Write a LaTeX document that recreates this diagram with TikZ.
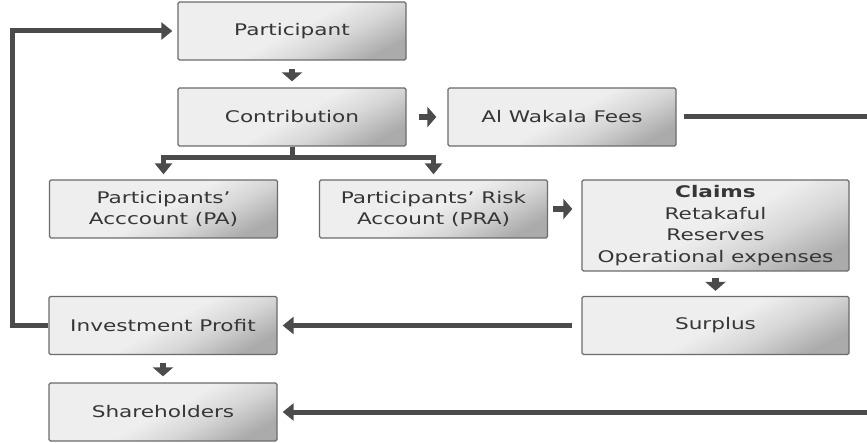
\documentclass[tikz,border=0pt]{standalone}
\usepackage{fontspec}
\usetikzlibrary{arrows.meta}
\newfontfamily\boxfont[FakeStretch=1.35]{DejaVu Sans}

\definecolor{shA}{HTML}{EEEEEE}
\definecolor{shB}{HTML}{D6D6D6}
\definecolor{shC}{HTML}{ABABAB}
\definecolor{boxline}{HTML}{6B6B6B}
\definecolor{linec}{HTML}{4B4B4B}
\definecolor{txt}{HTML}{363636}

% light face that darkens toward the lower right corner
\pgfdeclarehorizontalshading{boxshade}{100bp}{%
  color(0bp)=(shA); color(25bp)=(shA); color(50bp)=(shA);
  color(62bp)=(shB); color(76bp)=(shC); color(100bp)=(shC)}

\tikzset{
  box/.style={draw=boxline, line width=1.3pt, rounded corners=1.5pt,
    shading=boxshade, shading angle=-62,
    minimum width=228pt, minimum height=58pt, inner sep=0pt,
    align=center, text=txt,
    font={\boxfont\fontsize{16}{20.5}\selectfont}},
  wire/.style={draw=linec, line width=5pt},
  conn/.style={wire, -{Triangle[length=11pt,width=17pt]}},
  tick/.style={draw=linec, line width=6.5pt,
    -{Triangle[length=9pt,width=20pt]}},
}

\begin{document}
\begin{tikzpicture}[x=1pt,y=-1pt]
  \useasboundingbox (0,0) rectangle (867,443);

  % boxes
  \node[box] (part)    at (292,31)      {Participant};
  \node[box] (contrib) at (292,117)     {Contribution};
  \node[box] (wakala)  at (562,117)     {Al Wakala Fees};
  \node[box] (pa)      at (163.5,209)   {Participants’\\Acccount (PA)};
  \node[box] (pra)     at (433.5,209)   {Participants’ Risk\\Account (PRA)};
  \node[box, minimum width=267pt, minimum height=91pt,
        font={\boxfont\fontsize{16}{21.5}\selectfont}]
                       (claims) at (715.5,225.5)
        {\textbf{Claims}\\Retakaful\\Reserves\\Operational expenses};
  \node[box, minimum width=267pt] (surplus) at (715.5,325.5) {Surplus};
  \node[box] (invest)  at (163,325.5)   {Investment Profit};
  \node[box] (share)   at (163,412)     {Shareholders};

  % free ends and bends
  \coordinate (split) at (292,158);
  \coordinate (wR)    at (867,117);
  \coordinate (sR)    at (867,412);
  \coordinate (loopB) at (12,325.5);

  % short arrows between neighbouring boxes
  \draw[tick, shorten <=8pt, shorten >=6pt]  (part) -- (contrib);
  \draw[tick, shorten <=12pt, shorten >=11pt] (contrib) -- (wakala);
  \draw[tick, shorten <=5pt, shorten >=9pt] (pra) -- (pra -| claims.west);
  \draw[tick, shorten <=6pt, shorten >=5pt] (claims) -- (surplus);
  \draw[tick, shorten <=8pt, shorten >=6pt] (invest) -- (share);

  % split below the contribution box
  \draw[wire] (contrib.south) -- (split);
  \draw[conn, shorten >=5pt] (split) -| (pa);
  \draw[conn, shorten >=5pt] (split) -| (pra);

  % long connectors
  \draw[conn, shorten <=9pt, shorten >=5pt] (surplus) -- (invest);
  \draw[wire, shorten <=7pt] (wakala) -- (wR);
  \draw[conn, shorten >=5pt] (sR) -- (share);
  \draw[conn, shorten >=5pt] (invest) -- (loopB) |- (part);
\end{tikzpicture}
\end{document}
